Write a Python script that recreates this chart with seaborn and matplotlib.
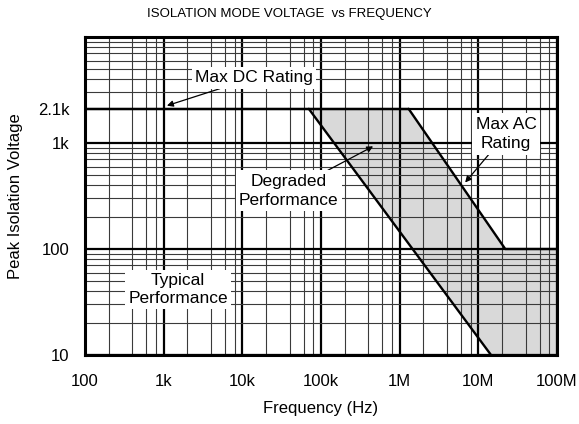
import matplotlib
matplotlib.use("Agg")
import matplotlib.pyplot as plt
import seaborn as sns
import pandas as pd

# ---- data ----
dc_freq = [100, 1.3e6]
dc_volt = [2100, 2100]

ac_freq = [1.3e6, 22e6, 1e8]
ac_volt = [2100, 100, 100]

deg_freq = [70e3, 14.5e6]
deg_volt = [2100, 10]

# shaded "degraded performance" region
shade_freq = [70e3, 1.3e6, 22e6, 1e8, 1e8, 14.5e6]
shade_volt = [2100, 2100, 100, 100, 10, 10]

x_ticks = [1e2, 1e3, 1e4, 1e5, 1e6, 1e7, 1e8]
x_labels = ["100", "1k", "10k", "100k", "1M", "10M", "100M"]
y_ticks = [10, 100, 1000, 2100]
y_labels = ["10", "100", "1k", "2.1k"]

sns.set_theme(style="white")
plt.rcParams['font.family'] = ['Liberation Sans', 'DejaVu Sans']
plt.rcParams['text.color'] = 'black'
plt.rcParams['axes.labelcolor'] = 'black'

fig = plt.figure(figsize=(5.79, 4.24), dpi=100)
ax = fig.add_axes([85 / 579, 1 - 355 / 424, 472 / 579, 318 / 424])
ax.set_xscale("log")
ax.set_yscale("log")
ax.set_xlim(100, 1e8)
ax.set_ylim(10, 1e4)

# ---- grid ----
x_minor = [m * 10 ** e for e in range(2, 8) for m in (2, 4, 6, 8)]
y_minor = [m * 10 ** e for e in range(1, 3) for m in range(2, 10)]
y_minor += [m * 1000 for m in range(3, 10)]
ax.set_xticks(x_ticks)
ax.set_xticklabels(x_labels)
ax.set_xticks(x_minor, minor=True)
ax.set_yticks(y_ticks)
ax.set_yticklabels(y_labels)
ax.set_yticks(y_minor, minor=True)
ax.tick_params(which="both", length=0, labelsize=12, colors="black")
ax.tick_params(axis="x", pad=14)
ax.tick_params(axis="y", pad=11)
ax.grid(which="major", color="black", linewidth=1.6, zorder=0)
ax.grid(which="minor", color="#3a3a3a", linewidth=0.8, zorder=0)
ax.set_axisbelow(True)
for s in ax.spines.values():
    s.set_color("black")
    s.set_linewidth(2.2)

# ---- region (under the grid) + lines ----
ax.fill(shade_freq, shade_volt, color="#d9d9d9", zorder=0.1, linewidth=0)

lines = pd.concat([
    pd.DataFrame({"f": dc_freq, "v": dc_volt, "s": "dc"}),
    pd.DataFrame({"f": ac_freq, "v": ac_volt, "s": "ac"}),
    pd.DataFrame({"f": deg_freq, "v": deg_volt, "s": "deg"}),
])
sns.lineplot(data=lines, x="f", y="v", units="s", estimator=None,
             color="black", linewidth=1.7, sort=False, ax=ax, zorder=3)

# ---- labels ----
box = dict(boxstyle="square,pad=0.2", fc="white", ec="none")
arrow = dict(arrowstyle="-|>", color="black", lw=0.9, mutation_scale=9,
             shrinkA=0, shrinkB=0)
ax.annotate("Max DC Rating", xy=(1.1e3, 2250), xytext=(0.358, 0.872),
            textcoords="axes fraction", ha="center", va="center",
            fontsize=12.5, bbox=box, arrowprops=arrow, zorder=5)
ax.annotate("Degraded\nPerformance", xy=(4.6e5, 930), xytext=(0.432, 0.516),
            textcoords="axes fraction", ha="center", va="center",
            fontsize=12.5, bbox=box, arrowprops=arrow, zorder=5,
            linespacing=1.35)
ax.annotate("Max AC\nRating", xy=(6.8e6, 424), xytext=(0.892, 0.695),
            textcoords="axes fraction", ha="center", va="center",
            fontsize=12.5, bbox=box, arrowprops=arrow, zorder=5,
            linespacing=1.35)
ax.text(0.197, 0.206, "Typical\nPerformance", transform=ax.transAxes,
        ha="center", va="center", fontsize=12.5, bbox=box, zorder=5,
        linespacing=1.2)

fig.text(0.5, 1 - 14 / 424, "ISOLATION MODE VOLTAGE  vs FREQUENCY",
         fontsize=9.5, ha="center", va="center")
ax.set_xlabel("Frequency (Hz)", fontsize=12, labelpad=8)
ax.set_ylabel("Peak Isolation Voltage", fontsize=12, labelpad=11)

fig.savefig("out.png", dpi=100)
